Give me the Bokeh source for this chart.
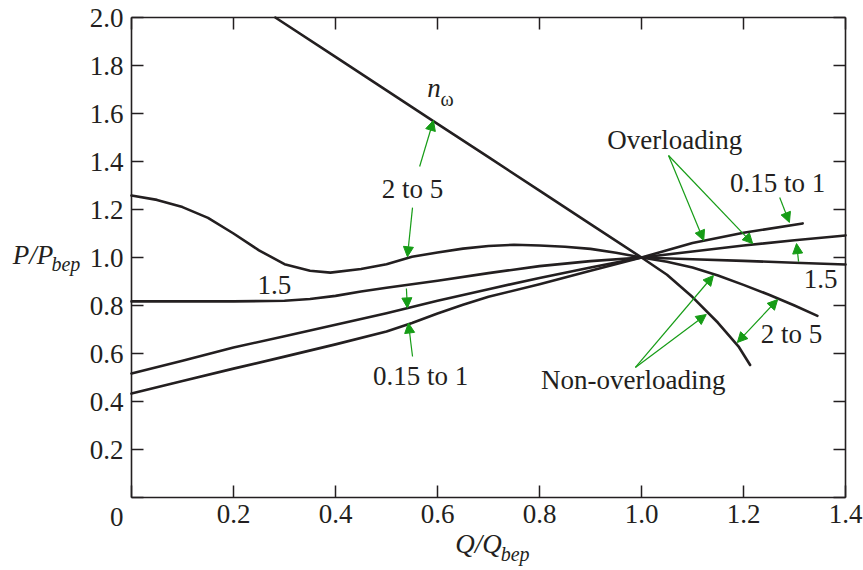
from bokeh.plotting import figure
from bokeh.models import (Range1d, LinearAxis, FixedTicker, Label, Arrow, NormalHead)
from bokeh.embed import file_html
from bokeh.resources import INLINE

# ---------------- data ----------------
x_ticks = [0, 0.2, 0.4, 0.6, 0.8, 1.0, 1.2, 1.4]
y_ticks = [0, 0.2, 0.4, 0.6, 0.8, 1.0, 1.2, 1.4, 1.6, 1.8, 2.0]

# n_omega curve
q_nw = [0.282, 0.4, 0.5, 0.6, 0.7, 0.8, 0.9, 1.0, 1.05, 1.1, 1.15, 1.19, 1.213]
p_nw = [2.0, 1.836, 1.696, 1.557, 1.418, 1.279, 1.139, 1.0, 0.928, 0.835, 0.728, 0.63, 0.552]

# specific speed 2 to 5
q_25 = [0, 0.05, 0.1, 0.15, 0.2, 0.25, 0.3, 0.35, 0.39, 0.45, 0.5, 0.55, 0.6, 0.65,
        0.7, 0.75, 0.8, 0.85, 0.9, 0.95, 1.0, 1.05, 1.1, 1.15, 1.2, 1.25, 1.3, 1.345]
p_25 = [1.258, 1.24, 1.21, 1.165, 1.1, 1.03, 0.972, 0.945, 0.937, 0.952, 0.972, 1.003,
        1.021, 1.037, 1.048, 1.053, 1.05, 1.045, 1.036, 1.02, 1.0, 0.982, 0.958, 0.925,
        0.886, 0.845, 0.8, 0.757]

# specific speed 1.5
q_15 = [0, 0.1, 0.2, 0.3, 0.35, 0.4, 0.45, 0.5, 0.6, 0.7, 0.8, 0.9, 1.0, 1.1, 1.2, 1.3, 1.4]
p_15 = [0.817, 0.817, 0.817, 0.82, 0.827, 0.84, 0.858, 0.874, 0.903, 0.935, 0.964, 0.985,
        1.0, 0.993, 0.986, 0.978, 0.971]

# specific speed 0.15 to 1 (two curves)
q_a = [0, 0.1, 0.2, 0.3, 0.4, 0.5, 0.6, 0.7, 0.8, 0.9, 1.0, 1.1, 1.2, 1.3, 1.4]
p_a = [0.517, 0.57, 0.625, 0.672, 0.72, 0.768, 0.82, 0.868, 0.915, 0.958, 1.0, 1.025,
       1.05, 1.072, 1.092]
q_b = [0, 0.1, 0.2, 0.3, 0.4, 0.5, 0.55, 0.6, 0.65, 0.7, 0.8, 0.9, 1.0, 1.1, 1.2, 1.316]
p_b = [0.433, 0.485, 0.537, 0.587, 0.638, 0.692, 0.727, 0.767, 0.803, 0.836, 0.889, 0.945,
       1.0, 1.06, 1.103, 1.142]

# ---------------- styles ----------------
FONT = "Liberation Serif"
FS = "27px"
SUB = "20px"
INK = "#231f20"
GREEN = "#169c16"
LIFT = 9   # label baseline correction in pixels

W, H = 863, 570
LEFT, RIGHT, TOP, BOTTOM = 131, 18, 17, 73   # pixel margins around the plot box
XMIN, XMAX, YMIN, YMAX = 0.0, 1.4, 0.0, 2.0
xs = (XMAX - XMIN) / (W - LEFT - RIGHT)
ys = (YMAX - YMIN) / (H - TOP - BOTTOM)

p = figure(width=W, height=H, output_backend="svg", toolbar_location=None,
           x_range=Range1d(XMIN - LEFT * xs, XMAX + RIGHT * xs),
           y_range=Range1d(YMIN - BOTTOM * ys, YMAX + TOP * ys),
           min_border=0, x_axis_location=None, y_axis_location=None)
p.grid.visible = False
p.outline_line_color = None
p.background_fill_color = "white"
p.border_fill_color = "white"


def make_axis(ticks, overrides, loc, bounds, show_labels, standoff):
    ax = LinearAxis(ticker=FixedTicker(ticks=ticks), fixed_location=loc, bounds=bounds)
    ax.major_tick_in = 12
    ax.major_tick_out = 0
    ax.minor_tick_in = 0
    ax.minor_tick_out = 0
    ax.axis_line_color = INK
    ax.axis_line_width = 1.6
    ax.major_tick_line_color = INK
    ax.major_tick_line_width = 1.5
    ax.major_label_overrides = overrides
    ax.major_label_text_font = FONT
    ax.major_label_text_font_size = FS if show_labels else "0px"
    ax.major_label_text_color = INK
    ax.major_label_standoff = standoff
    return ax


x_over = {t: ("" if t == 0 else f"{t:.1f}") for t in x_ticks}
y_over = {t: ("" if t == 0 else f"{t:.1f}") for t in y_ticks}
blank_x = {t: "" for t in x_ticks}
blank_y = {t: "" for t in y_ticks}

p.add_layout(make_axis(x_ticks, x_over, YMIN, (XMIN, XMAX), True, 7), "below")
p.add_layout(make_axis(y_ticks, y_over, XMIN, (YMIN, YMAX), True, 8), "left")
p.add_layout(make_axis(x_ticks, blank_x, YMAX, (XMIN, XMAX), False, 0), "above")
p.add_layout(make_axis(y_ticks, blank_y, XMAX, (YMIN, YMAX), False, 0), "right")

# ---------------- curves ----------------
for qs, ps in [(q_nw, p_nw), (q_25, p_25), (q_15, p_15), (q_a, p_a), (q_b, p_b)]:
    p.line(qs, ps, line_color=INK, line_width=2.6, line_join="round", line_cap="round")


# ---------------- texts ----------------
def lab(x, y, text, size=FS, style="normal", align="center"):
    p.add_layout(Label(x=x, y=y, y_offset=LIFT, text=text, text_font=FONT,
                       text_font_size=size, text_font_style=style, text_align=align,
                       text_baseline="alphabetic", text_color=INK))


lab(-0.029, -0.117, "0")
# axis titles
lab(-0.233, 0.975, "P/P", style="italic", align="left")
lab(-0.157, 0.9375, "bep", size=SUB, style="italic", align="left")
lab(0.635, -0.233, "Q/Q", style="italic", align="left")
lab(0.724, -0.271, "bep", size=SUB, style="italic", align="left")

# curve labels
lab(0.580, 1.667, "n", style="italic", align="left")
lab(0.606, 1.625, "ω", size=SUB, align="left")
lab(0.551, 1.25, "2 to 5")
lab(0.280, 0.85, "1.5")
lab(0.567, 0.467, "0.15 to 1")
lab(1.065, 1.454, "Overloading")
lab(1.267, 1.271, "0.15 to 1")
lab(1.351, 0.871, "1.5")
lab(1.294, 0.642, "2 to 5")
lab(0.984, 0.454, "Non-overloading")


# ---------------- arrows ----------------
def arr(x0, y0, x1, y1, both=False):
    def head():
        return NormalHead(size=10, fill_color=GREEN, line_color=GREEN, line_width=1)
    kw = dict(end=head(), x_start=x0, y_start=y0, x_end=x1, y_end=y1,
              line_color=GREEN, line_width=1.2)
    if both:
        kw["start"] = head()
    p.add_layout(Arrow(**kw))


arr(0.565, 1.379, 0.592, 1.571)
arr(0.551, 1.208, 0.541, 1.003)
arr(0.539, 0.871, 0.541, 0.79)
arr(0.551, 0.5875, 0.543, 0.727)
arr(1.053, 1.425, 1.122, 1.071)
arr(1.053, 1.425, 1.218, 1.058)
arr(1.271, 1.25, 1.29, 1.146)
arr(1.308, 0.983, 1.304, 1.058)
arr(1.188, 0.646, 1.267, 0.825, both=True)
arr(0.988, 0.542, 1.141, 0.925)
arr(0.988, 0.542, 1.127, 0.7625)

open("out.html", "w").write(file_html(p, INLINE))
